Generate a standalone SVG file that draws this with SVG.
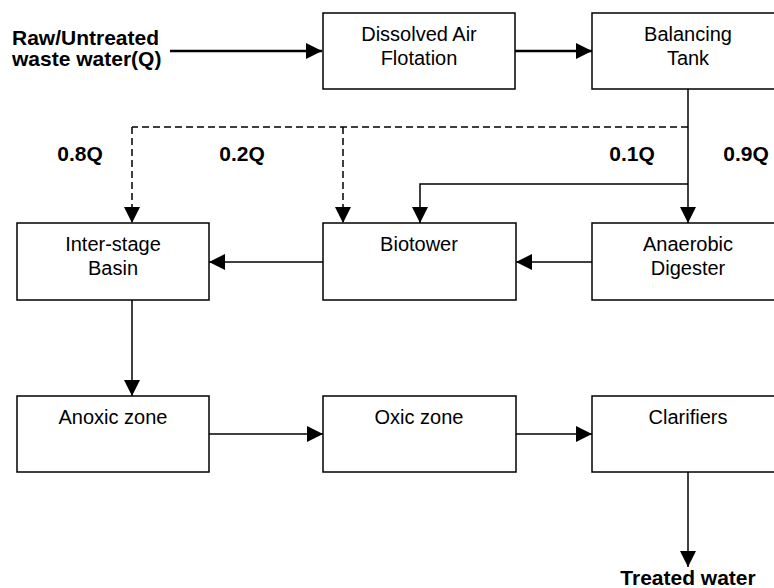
<svg xmlns="http://www.w3.org/2000/svg" width="774" height="588" viewBox="0 0 774 588">
<defs>
<marker id="ah" markerUnits="userSpaceOnUse" markerWidth="16" markerHeight="16" refX="16" refY="8" orient="auto" viewBox="0 0 16 16">
<path d="M0,0 L16,8 L0,16 z" fill="#000"/>
</marker>
<style>
.box{fill:#fff;stroke:#000;stroke-width:1.5}
.lbl{font-family:"Liberation Sans",Arial,sans-serif;font-size:20px;fill:#000;text-anchor:middle}
.bold{font-family:"Liberation Sans",Arial,sans-serif;font-size:21px;font-weight:bold;fill:#000}
.ln{fill:none;stroke:#000;stroke-width:1.5}
.thick{stroke-width:2.5}
.dash{stroke-dasharray:7 4}
.arr{marker-end:url(#ah)}
</style>
</defs>
<rect width="774" height="588" fill="#fff"/>
<g id="connectors">
<path class="ln thick arr" d="M170,51 H322"/>
<path class="ln thick arr" d="M515,51 H592"/>
<path class="ln arr" d="M688,89 V223"/>
<path class="ln arr" d="M688,184 H420 V223"/>
<path class="ln dash" d="M688,127 H132"/>
<path class="ln dash arr" d="M132,127 V223"/>
<path class="ln dash arr" d="M343,127 V223"/>
<path class="ln arr" d="M592,262 H516"/>
<path class="ln arr" d="M323,262 H209"/>
<path class="ln arr" d="M132,300 V396"/>
<path class="ln arr" d="M209,434 H323"/>
<path class="ln arr" d="M516,434 H592"/>
<path class="ln arr" d="M688,472 V567"/>
</g>
<g id="raw">
<text class="bold" x="12" y="45">Raw/Untreated</text>
<text class="bold" x="12" y="66">waste water(Q)</text>
</g>
<g id="daf">
<rect class="box" x="323" y="13" width="192" height="76"/>
<text class="lbl" x="419" y="41">Dissolved Air</text>
<text class="lbl" x="419" y="65">Flotation</text>
</g>
<g id="balancing">
<rect class="box" x="592" y="13" width="192" height="76"/>
<text class="lbl" x="688" y="41">Balancing</text>
<text class="lbl" x="688" y="65">Tank</text>
</g>
<g id="interstage">
<rect class="box" x="17" y="223" width="192" height="77"/>
<text class="lbl" x="113" y="251">Inter-stage</text>
<text class="lbl" x="113" y="275">Basin</text>
</g>
<g id="biotower">
<rect class="box" x="323" y="223" width="193" height="77"/>
<text class="lbl" x="419" y="251">Biotower</text>
</g>
<g id="anaerobic">
<rect class="box" x="592" y="223" width="192" height="77"/>
<text class="lbl" x="688" y="251">Anaerobic</text>
<text class="lbl" x="688" y="275">Digester</text>
</g>
<g id="anoxic">
<rect class="box" x="17" y="396" width="192" height="76"/>
<text class="lbl" x="113" y="424">Anoxic zone</text>
</g>
<g id="oxic">
<rect class="box" x="323" y="396" width="193" height="76"/>
<text class="lbl" x="419" y="424">Oxic zone</text>
</g>
<g id="clarifiers">
<rect class="box" x="592" y="396" width="192" height="76"/>
<text class="lbl" x="688" y="424">Clarifiers</text>
</g>
<g id="labels">
<text class="bold" x="80" y="161" text-anchor="middle">0.8Q</text>
<text class="bold" x="242" y="161" text-anchor="middle">0.2Q</text>
<text class="bold" x="632" y="161" text-anchor="middle">0.1Q</text>
<text class="bold" x="746" y="161" text-anchor="middle">0.9Q</text>
</g>
<g id="treated">
<text class="bold" x="688" y="585" text-anchor="middle">Treated water</text>
</g>
</svg>
